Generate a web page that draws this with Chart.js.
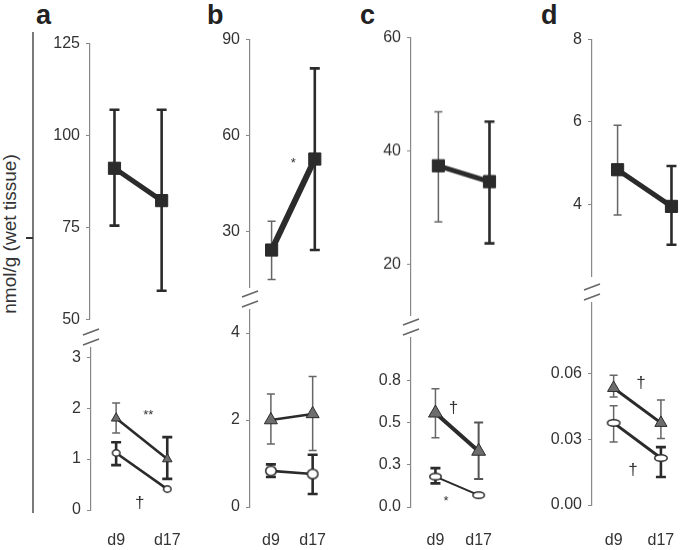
<!DOCTYPE html>
<html><head><meta charset="utf-8">
<script src="https://cdn.jsdelivr.net/npm/chart.js@4.4.1/dist/chart.umd.min.js"></script>
<style>
html,body{margin:0;padding:0;background:#fff;}
body{width:685px;height:550px;position:relative;overflow:hidden;font-family:"Liberation Sans",Arial,Helvetica,sans-serif;}
canvas{position:absolute;}
.letter{position:absolute;font-weight:bold;font-size:27px;line-height:27px;color:#222;}
#ylab{position:absolute;left:10px;top:234px;transform:translate(-50%,-50%) rotate(-90deg);white-space:nowrap;font-size:19px;color:#333;}
#outer{position:absolute;left:32px;top:32px;width:2px;height:481px;background:#7a7a7a;}
#otick{position:absolute;left:26px;top:237px;width:7px;height:2px;background:#333;}
</style>
</head><body>
<div id="outer"></div><div id="otick"></div>
<div id="ylab">nmol/g (wet tissue)</div>
<div class="letter" style="left:36px;top:2px">a</div>
<div class="letter" style="left:207px;top:2px">b</div>
<div class="letter" style="left:360px;top:2px">c</div>
<div class="letter" style="left:541px;top:2px">d</div>
<script>
// ---------- DATA ----------
const categories = ['d9', 'd17'];

// panel a
const aUpperRange = [50, 125];
const aUpperTicks = [50, 75, 100, 125];
const aUpperMean = [91.1, 82.3];
const aUpperLow = [75.5, 57.8];
const aUpperHigh = [107, 107];
const aLowerRange = [0, 3.18];
const aLowerTicks = [0, 1, 2, 3];
const aTriMean = [1.80, 1.00];
const aTriLow = [1.51, 0.61];
const aTriHigh = [2.10, 1.43];
const aCircMean = [1.12, 0.41];
const aCircLow = [0.88, null];
const aCircHigh = [1.33, null];

// panel b
const bUpperRange = [12.4, 90];
const bUpperTicks = [30, 60, 90];
const bUpperMean = [24.1, 52.6];
const bUpperLow = [14.9, 24.1];
const bUpperHigh = [33.1, 81.0];
const bLowerRange = [0, 4.53];
const bLowerTicks = [0, 2, 4];
const bTriMean = [2.00, 2.14];
const bTriLow = [1.45, 1.30];
const bTriHigh = [2.60, 3.00];
const bCircMean = [0.83, 0.76];
const bCircLow = [0.69, 0.30];
const bCircHigh = [0.98, 1.20];

// panel c
const cUpperRange = [11, 60];
const cUpperTicks = [20, 40, 60];
const cUpperMean = [37.4, 34.6];
const cUpperLow = [27.5, 23.7];
const cUpperHigh = [46.9, 45.2];
const cLowerRange = [0, 1.0];
const cLowerTicks = [0, 0.25, 0.5, 0.75];
const cLowerTickLabels = ['0.0', '0.3', '0.5', '0.8'];
const cTriMean = [0.556, 0.33];
const cTriLow = [0.41, 0.165];
const cTriHigh = [0.70, 0.50];
const cCircMean = [0.18, 0.07];
const cCircLow = [0.14, null];
const cCircHigh = [0.23, null];

// panel d
const dUpperRange = [2.25, 8];
const dUpperTicks = [4, 6, 8];
const dUpperMean = [4.84, 3.95];
const dUpperLow = [3.74, 3.02];
const dUpperHigh = [5.92, 4.93];
const dLowerRange = [0, 0.0925];
const dLowerTicks = [0, 0.03, 0.06];
const dLowerTickLabels = ['0.00', '0.03', '0.06'];
const dTriMean = [0.0536, 0.0376];
const dTriLow = [0.0495, 0.0305];
const dTriHigh = [0.0594, 0.0481];
const dCircMean = [0.0376, 0.0215];
const dCircLow = [0.0289, 0.0128];
const dCircHigh = [0.0454, 0.0265];

// significance marks: [text, x (category index units), y (value)]
const aLowerNotes = [['**', 0.63, 1.92], ['†', 0.46, 0.14]];
const bUpperNotes = [['*', 0.5, 52.3]];
const cLowerNotes = [['†', 0.415, 0.585], ['*', 0.245, 0.053]];
const dLowerNotes = [['†', 0.576, 0.0559], ['†', 0.407, 0.016]];

// ---------- STYLE ----------
const DARK = '#2b2b2b';
const TRI_FILL = '#6d6d6d';
const THIN = {color: '#666', width: 1.5, cap: 4};
const THICK = {color: '#2b2b2b', width: 2.6, cap: 5};
const MED = {color: '#555', width: 2, cap: 4.5};

function ellipseImg(w, h, lw) {
  const c = document.createElement('canvas');
  c.width = w + 2; c.height = h + 2;
  const g = c.getContext('2d');
  g.beginPath();
  g.ellipse(c.width / 2, c.height / 2, w / 2 - lw / 2, h / 2 - lw / 2, 0, 0, Math.PI * 2);
  g.fillStyle = '#fff'; g.fill();
  g.lineWidth = lw; g.strokeStyle = DARK; g.stroke();
  return c;
}

const errPlugin = {
  id: 'errbars',
  beforeDatasetsDraw(chart) {
    const ctx = chart.ctx, ys = chart.scales.y;
    chart.data.datasets.forEach((ds, di) => {
      if (!ds.errLow) return;
      const meta = chart.getDatasetMeta(di);
      meta.data.forEach((pt, i) => {
        const lo = ds.errLow[i], hi = ds.errHigh[i];
        if (lo == null || hi == null) return;
        const st = ds.errStyle[i];
        const x = pt.x, y1 = ys.getPixelForValue(lo), y2 = ys.getPixelForValue(hi);
        ctx.save();
        ctx.strokeStyle = st.color; ctx.lineWidth = st.width; ctx.lineCap = 'butt';
        ctx.beginPath();
        ctx.moveTo(x, y1); ctx.lineTo(x, y2);
        ctx.moveTo(x - st.cap, y1); ctx.lineTo(x + st.cap, y1);
        ctx.moveTo(x - st.cap, y2); ctx.lineTo(x + st.cap, y2);
        ctx.stroke();
        ctx.restore();
      });
    });
  },
  afterDatasetsDraw(chart) {
    const notes = chart.options.plugins.notes || [];
    const ctx = chart.ctx, xs = chart.scales.x, ys = chart.scales.y;
    notes.forEach(([t, xv, yv]) => {
      const isStar = t.indexOf('*') >= 0;
      const size = isStar ? 13 : 17;
      const px = xs.getPixelForValue(xv), py = ys.getPixelForValue(yv);
      ctx.save();
      ctx.font = size + 'px "Liberation Sans", Arial, sans-serif';
      ctx.fillStyle = '#333';
      ctx.textAlign = 'center';
      ctx.textBaseline = 'alphabetic';
      ctx.fillText(t, px, py + (isStar ? 0.55 : 0.28) * size);
      ctx.restore();
    });
    if (chart.options.plugins.brk) {
      const a = chart.chartArea;
      const x = a.left, top = a.top;
      ctx.save();
      ctx.strokeStyle = '#666'; ctx.lineWidth = 1.5;
      ctx.beginPath();
      ctx.moveTo(x - 8, top - 13); ctx.lineTo(x + 8, top - 19);
      ctx.moveTo(x - 8, top - 3); ctx.lineTo(x + 8, top - 9);
      ctx.stroke();
      ctx.restore();
    }
  }
};

const YW = 60;
function makeChart(cfg) {
  const lower = !!cfg.lower;
  const PT = lower ? 32 : 14, PB = lower ? 45 : 14;
  const R = cfg.x1 + 24;
  const left = cfg.axisX - YW;
  const width = R - left;
  const top = cfg.topPx - PT;
  const height = cfg.botPx - cfg.topPx + PT + PB;
  const cv = document.createElement('canvas');
  cv.width = width; cv.height = height;
  cv.style.left = left + 'px'; cv.style.top = top + 'px';
  cv.style.width = width + 'px'; cv.style.height = height + 'px';
  document.body.appendChild(cv);
  const unit = cfg.x1 - cfg.x0;
  const xmin = -(cfg.x0 - cfg.axisX) / unit;
  const xmax = 1 + (R - cfg.x1) / unit;
  const tickVals = cfg.ticks;
  const tickLabels = cfg.tickLabels || cfg.ticks.map(String);
  const datasets = cfg.series.map(s => ({
    data: s.mean.map((v, i) => ({x: i, y: v})),
    borderColor: DARK,
    borderWidth: s.lw,
    pointStyle: s.pointStyle,
    pointRadius: s.r,
    pointBackgroundColor: s.fill,
    pointBorderColor: DARK,
    pointBorderWidth: s.pbw,
    clip: false,
    tension: 0,
    fill: false,
    errLow: s.low, errHigh: s.high, errStyle: s.errStyle
  }));
  new Chart(cv, {
    type: 'line',
    data: {datasets},
    plugins: [errPlugin],
    options: {
      responsive: false,
      animation: false,
      events: [],
      layout: {padding: {top: PT, bottom: lower ? 0 : PB, left: 0, right: 0}},
      plugins: {legend: {display: false}, tooltip: {enabled: false}, notes: cfg.notes || [], brk: lower},
      scales: {
        x: {
          type: 'linear', min: xmin, max: xmax,
          display: lower,
          grid: {display: false, drawTicks: false},
          border: {display: false},
          afterBuildTicks: s => { s.ticks = categories.map((c, i) => ({value: i})); },
          afterFit: s => { s.height = lower ? 45 : 0; },
          ticks: {
            autoSkip: false, maxRotation: 0, padding: cfg.xpad || 22,
            color: '#333', font: {size: 16, family: '"Liberation Sans", Arial, sans-serif'},
            callback: (v, i) => categories[i]
          }
        },
        y: {
          type: 'linear', min: cfg.range[0], max: cfg.range[1],
          grid: {drawOnChartArea: false, drawTicks: true, tickLength: 4, color: '#888', lineWidth: 1},
          border: {display: true, color: '#888', width: 1.2},
          afterBuildTicks: s => { s.ticks = tickVals.map(v => ({value: v})); },
          afterFit: s => { s.width = YW; },
          ticks: {
            autoSkip: false, padding: 6,
            color: '#333', font: {size: 16, family: '"Liberation Sans", Arial, sans-serif'},
            callback: (v, i) => tickLabels[i]
          }
        }
      }
    }
  });
}

function sq(mean, low, high, lw, errStyle) {
  return {mean, low, high, lw, pointStyle: 'rect', r: 8.6, fill: DARK, pbw: 1, errStyle};
}
function tri(mean, low, high, lw, r, errStyle) {
  return {mean, low, high, lw, pointStyle: 'triangle', r, fill: TRI_FILL, pbw: 1, errStyle};
}
function circ(mean, low, high, lw, img, errStyle) {
  return {mean, low, high, lw, pointStyle: img, r: 5, fill: '#fff', pbw: 1.5, errStyle};
}

// panel a
makeChart({axisX: 90, topPx: 42, botPx: 321, x0: 117, x1: 169, range: aUpperRange, ticks: aUpperTicks,
  series: [sq(aUpperMean, aUpperLow, aUpperHigh, 5, [THICK, THICK])]});
makeChart({lower: true, axisX: 91, topPx: 347.8, botPx: 510, x0: 120, x1: 179, range: aLowerRange, ticks: aLowerTicks,
  xpad: 21, notes: aLowerNotes,
  series: [
    circ(aCircMean, aCircLow, aCircHigh, 2.6, ellipseImg(9, 8, 1.5), [THICK, THICK]),
    tri(aTriMean, aTriLow, aTriHigh, 2.6, 5.5, [THIN, THICK])
  ]});

// panel b
makeChart({axisX: 250, topPx: 38, botPx: 289, x0: 274, x1: 322, range: bUpperRange, ticks: bUpperTicks,
  notes: bUpperNotes,
  series: [sq(bUpperMean, bUpperLow, bUpperHigh, 6, [THIN, THICK])]});
makeChart({lower: true, axisX: 250, topPx: 310, botPx: 507, x0: 276, x1: 328, range: bLowerRange, ticks: bLowerTicks,
  xpad: 24,
  series: [
    tri(bTriMean, bTriLow, bTriHigh, 2.6, 7.5, [THIN, THIN]),
    circ(bCircMean, bCircLow, bCircHigh, 2.6, ellipseImg(12, 11, 1.5), [THICK, THICK])
  ]});

// panel c
makeChart({axisX: 411, topPx: 36, botPx: 316.5, x0: 441, x1: 497, range: cUpperRange, ticks: cUpperTicks,
  series: [sq(cUpperMean, cUpperLow, cUpperHigh, 5, [THIN, THICK])]});
makeChart({lower: true, axisX: 411, topPx: 337.7, botPx: 507, x0: 441, x1: 494, range: cLowerRange, ticks: cLowerTicks,
  tickLabels: cLowerTickLabels, xpad: 24, notes: cLowerNotes,
  series: [
    tri(cTriMean, cTriLow, cTriHigh, 4, 8, [THIN, MED]),
    circ(cCircMean, cCircLow, cCircHigh, 2, ellipseImg(13, 8, 1.5), [THICK, THICK])
  ]});

// panel d
makeChart({axisX: 592, topPx: 38, botPx: 278, x0: 620, x1: 679, range: dUpperRange, ticks: dUpperTicks,
  series: [sq(dUpperMean, dUpperLow, dUpperHigh, 5, [THIN, THICK])]});
makeChart({lower: true, axisX: 592, topPx: 303, botPx: 505, x0: 619, x1: 678, range: dLowerRange, ticks: dLowerTicks,
  tickLabels: dLowerTickLabels, xpad: 26, notes: dLowerNotes,
  series: [
    tri(dTriMean, dTriLow, dTriHigh, 3, 7, [THIN, THIN]),
    circ(dCircMean, dCircLow, dCircHigh, 3, ellipseImg(14, 8, 1.5), [THIN, THICK])
  ]});
</script>
</body></html>
